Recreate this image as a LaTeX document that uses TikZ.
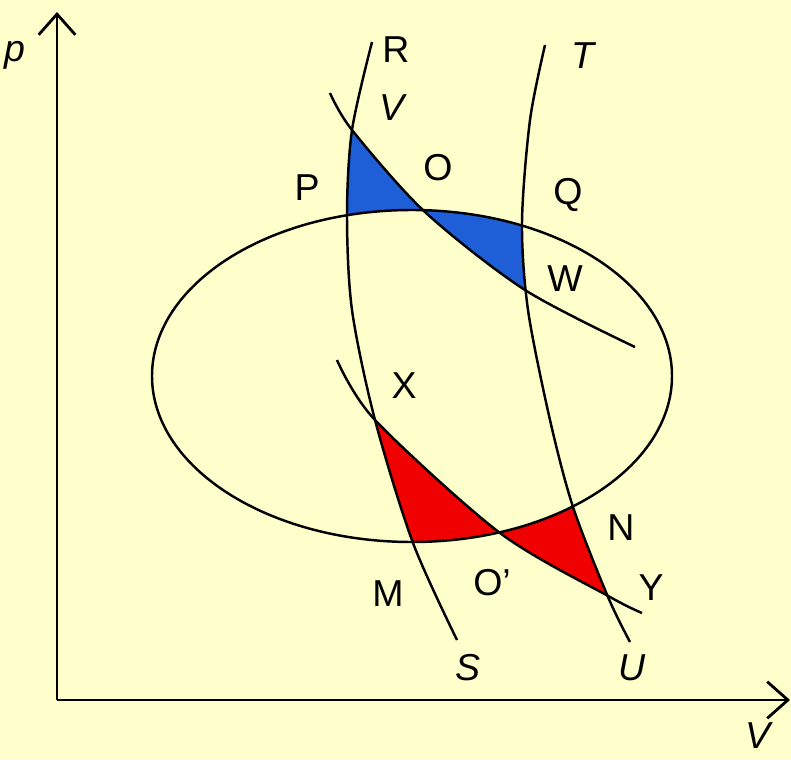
\documentclass[tikz,border=0pt]{standalone}
\usepackage{fontspec}
\setmainfont{Liberation Sans}
\usepackage{tikz}
\usetikzlibrary{arrows.meta}

\definecolor{paper}{RGB}{255,255,204}
\definecolor{cyclblue}{RGB}{30,95,215}
\definecolor{cyclred}{RGB}{240,0,0}

% the four curves (pixel coordinates, y downwards)
\newcommand{\curveRS}{plot[smooth] coordinates {(372,42) (352,130) (347,215) (352,310) (375,420) (413,543) (457,640)}}
\newcommand{\curveTU}{plot[smooth] coordinates {(545,45) (530,120) (522,222) (528,310) (550,420) (573,507) (608,597) (630,642)}}
\newcommand{\curveVW}{plot[smooth] coordinates {(330,93) (352,130) (425,212) (525,290) (635,347)}}
\newcommand{\curveXY}{plot[smooth] coordinates {(337,360) (375,420) (500,533) (610,597) (642,613)}}

\begin{document}
\begin{tikzpicture}[
    x=0.03cm, y=-0.03cm,
    >={Straight Barb[length=0.62cm, width=1.1cm]},
    curve/.style={line width=2.1pt, line join=round},
    axis/.style={line width=2.4pt},
    txt/.style={font=\fontsize{32}{38}\selectfont, inner sep=0pt},
    txtit/.style={font=\fontsize{32}{38}\selectfont\itshape, inner sep=0pt}
]

\fill[paper] (0,0) rectangle (791,759);
\useasboundingbox (0,0) rectangle (791,759);

% blue part above the ellipse
\begin{scope}
  \clip \curveRS -- (800,640) -- (800,42) -- cycle;
  \clip \curveVW -- (635,800) -- (0,800) -- (0,93) -- cycle;
  \clip (152,376) arc[start angle=180, end angle=360, x radius=260, y radius=166] -- (672,0) -- (152,0) -- cycle;
  \fill[cyclblue] (300,80) rectangle (600,330);
\end{scope}

% blue part inside the ellipse
\begin{scope}
  \clip \curveTU -- (0,642) -- (0,45) -- cycle;
  \clip \curveVW -- (635,0) -- (330,0) -- cycle;
  \clip (412,376) ellipse [x radius=260, y radius=166];
  \fill[cyclblue] (300,80) rectangle (600,330);
\end{scope}

% red part inside the ellipse
\begin{scope}
  \clip \curveRS -- (800,640) -- (800,42) -- cycle;
  \clip \curveXY -- (642,800) -- (337,800) -- cycle;
  \clip (412,376) ellipse [x radius=260, y radius=166];
  \fill[cyclred] (330,350) rectangle (680,640);
\end{scope}

% red part below the ellipse
\begin{scope}
  \clip \curveTU -- (0,642) -- (0,45) -- cycle;
  \clip \curveXY -- (642,0) -- (337,0) -- cycle;
  \clip (152,376) arc[start angle=180, end angle=0, x radius=260, y radius=166] -- (672,800) -- (152,800) -- cycle;
  \fill[cyclred] (330,350) rectangle (680,640);
\end{scope}

\draw[curve] (412,376) ellipse [x radius=260, y radius=166];
\draw[curve] \curveRS;
\draw[curve] \curveTU;
\draw[curve] \curveVW;
\draw[curve] \curveXY;

% axes
\coordinate (orig) at (57,700);
\coordinate (ptop) at (57,12);
\coordinate (vend) at (790,700);
\draw[axis, ->] (orig) -- (ptop);
\draw[axis, ->] (orig) -- (vend);

\node[txtit] (plbl) at (15,55) {p};
\node[txtit] (vlbl) at (758,736) {V};

\node[txt]   (R)  at (396,50)  {R};
\node[txtit] (V)  at (392,108) {V};
\node[txt]   (O)  at (438,168) {O};
\node[txt]   (P)  at (307,188) {P};
\node[txt]   (Q)  at (568,195) {Q};
\node[txt]   (W)  at (565,279) {W};
\node[txtit] (T)  at (583,56)  {T};
\node[txt]   (X)  at (404,386) {X};
\node[txt]   (N)  at (621,528) {N};
\node[txt]   (Y)  at (651,588) {Y};
\node[txt]   (M)  at (388,594) {M};
\node[txt]   (Op) at (492,583) {O'};
\node[txtit] (S)  at (468,668) {S};
\node[txtit] (U)  at (632,668) {U};

\end{tikzpicture}
\end{document}
